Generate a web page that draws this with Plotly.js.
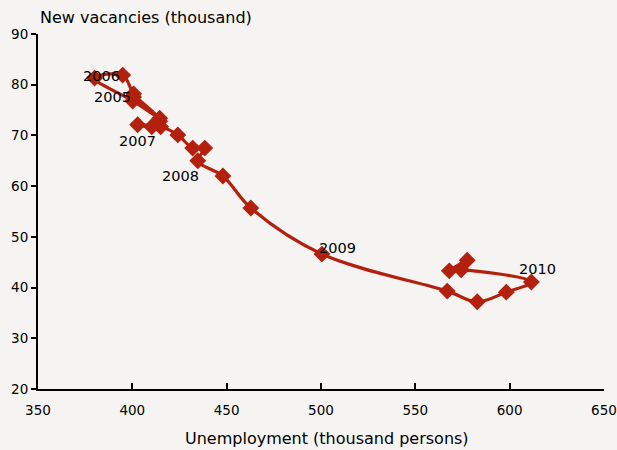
<!DOCTYPE html>
<html>
<head>
<meta charset="utf-8">
<script src="https://cdn.plot.ly/plotly-3.0.1.min.js"></script>
<style>html,body{margin:0;padding:0;background:#f6f4f2;}</style>
</head>
<body>
<div id="chart" style="width:617px;height:450px;"></div>
<script>
// Unemployment (thousand persons), in path order
const unemployment = [400.7, 414.5, 400.2, 380.0, 394.9, 400.7, 414.5, 410.3, 402.8, 415.0, 424.1, 432.0,
                      438.4, 434.7, 448.0, 462.8, 500.5, 566.9, 582.8, 598.2, 611.5, 574.3, 568.0, 577.5];
// New vacancies (thousand)
const vacancies = [77.6, 73.4, 76.8, 81.3, 81.9, 78.2, 72.8, 71.7, 72.1, 71.7, 70.1, 67.5,
                   67.5, 65.0, 62.0, 55.7, 46.6, 39.3, 37.2, 39.1, 41.1, 43.5, 43.3, 45.4];
// Year labels and their positions
const yearLabels = ["2006", "2005", "2007", "2008", "2009", "2010"];
const yearLabelX = [383.7, 389.3, 402.6, 425.4, 508.6, 614.7];
const yearLabelY = [81.7, 77.6, 68.9, 62.0, 47.8, 43.7];

const fontFam = "DejaVu Sans, sans-serif";
const red = "#b3200e";

const annotations = yearLabels.map((t, i) => ({
  x: yearLabelX[i], y: yearLabelY[i], xref: "x", yref: "y",
  text: t, showarrow: false, font: {family: fontFam, size: 14.5, color: "#000"}
}));
annotations.push({
  x: 0, y: 1, xref: "paper", yref: "paper", xanchor: "left", yanchor: "bottom", yshift: 5, xshift: 0,
  text: "New vacancies (thousand)", showarrow: false,
  font: {family: fontFam, size: 16, color: "#000"}
});
annotations.push({
  x: 0.5, y: 0, xref: "paper", yref: "paper", xanchor: "center", yanchor: "top", yshift: -38, xshift: 6,
  text: "Unemployment (thousand persons)", showarrow: false,
  font: {family: fontFam, size: 16, color: "#000"}
});

const trace = {
  x: unemployment, y: vacancies, type: "scatter", mode: "lines+markers",
  line: {color: red, width: 3.2, shape: "spline", smoothing: 1},
  marker: {symbol: "diamond", size: 13, color: red},
  cliponaxis: false
};

const layout = {
  width: 617, height: 450,
  paper_bgcolor: "#f6f4f2", plot_bgcolor: "#f6f4f2",
  margin: {l: 38, r: 13, t: 34, b: 61},
  showlegend: false,
  font: {family: fontFam, size: 13, color: "#000"},
  xaxis: {
    range: [350, 650], tickvals: [350, 400, 450, 500, 550, 600, 650],
    showgrid: false, zeroline: false, showline: true, linecolor: "#000", linewidth: 2,
    ticks: "inside", ticklen: 6, tickwidth: 2, tickcolor: "#000",
    ticklabelstandoff: 8,
    tickfont: {family: fontFam, size: 13.5}
  },
  yaxis: {
    range: [20, 90], tickvals: [20, 30, 40, 50, 60, 70, 80, 90],
    showgrid: false, zeroline: false, showline: true, linecolor: "#000", linewidth: 2,
    ticks: "outside", ticklen: 5, tickwidth: 2, tickcolor: "#000",
    tickfont: {family: fontFam, size: 13.5}
  },
  annotations: annotations
};

Plotly.newPlot("chart", [trace], layout, {displayModeBar: false, staticPlot: true});
</script>
</body>
</html>
